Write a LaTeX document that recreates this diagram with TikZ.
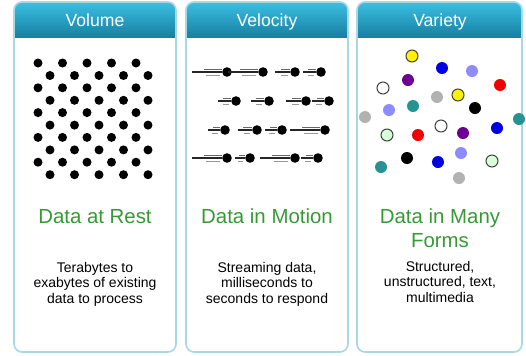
\documentclass[tikz,border=0pt]{standalone}
\usepackage{fontspec}
\setmainfont{Liberation Sans}
\usepackage{xcolor}
\definecolor{headtop}{HTML}{3CBFE2}
\definecolor{headbot}{HTML}{1680A2}
\definecolor{frame}{HTML}{A6D9E3}
\definecolor{titlegreen}{HTML}{359A35}
\tikzset{
  panel/.style={draw=frame,line width=0.8pt,rounded corners=4pt},
  head/.style={top color=headtop,bottom color=headbot},
  headtext/.style={text=white,font=\fontsize{8.8}{10}\selectfont,anchor=base},
  title/.style={text=titlegreen,font=\fontsize{10.2}{12}\selectfont,anchor=base,align=center},
  body/.style={font=\fontsize{7}{7.7}\selectfont,anchor=base,align=center},
  dot/.style={circle,fill,inner sep=0pt,minimum size=4.5pt},
  vdot/.style={circle,fill,inner sep=0pt,minimum size=4.8pt},
  streak/.style={line width=0.9pt,black!85},
  thin/.style={line width=0.5pt,black!60},
  cdot/.style={circle,inner sep=0pt,minimum size=6pt,line width=0.5pt},
  cyel/.style={fill=yellow,draw=black!75},
  cwht/.style={fill=white,draw=black!75},
  clgr/.style={fill=green!15,draw=black!75},
  cblu/.style={fill=blue!90!black},
  clbl/.style={fill=blue!45!white},
  cred/.style={fill=red!95!black},
  cpur/.style={fill=violet!85!blue},
  cgry/.style={fill=black!30},
  ctea/.style={fill=teal!85},
  cblk/.style={fill=black}
}
\begin{document}
\begin{tikzpicture}[x=0.5pt,y=-0.5pt]
  \useasboundingbox (0,0) rectangle (526,355);
  \foreach \l/\r in {14/176,186/348,357/522} {
    \begin{scope}
      \clip[rounded corners=4pt] (\l,2) rectangle (\r,352);
      \shade[head] (\l,2) rectangle (\r,37);
    \end{scope}
    \draw[panel] (\l,2) rectangle (\r,352);
  }
  \node (volhead) at (95,26) [headtext] {Volume};
  \node (velhead) at (267,26) [headtext] {Velocity};
  \node (varhead) at (440,26) [headtext] {Variety};

  \foreach \r in {0,...,4}
    \foreach \c in {0,...,4} {
      \node (a\r\c) at ({38+24.5*\c},{63+24.8*\r}) [dot] {};
      \node (b\r\c) at ({50+24.5*\c},{75.5+24.8*\r}) [dot] {};
    }

  \foreach \x/\y/\l [count=\i] in {227/72/30,263/72/30,295/72/15,321/72/13,
      236/101/13,269/101/13,306/101/15,329/101/12,
      225/130/12,257/130/14,282/130/12,325/130/30,
      227/158/30,250/158/10,295/158/30,318/158/12} {
    \node (v\i) at (\x,\y) [vdot] {};
    \draw[streak] (v\i.west) -- ++(-\l,0);
    \draw[thin] ([yshift=1.1pt]v\i.west) -- ++({-0.6*\l},0);
    \draw[thin,black!40] ([yshift=-1.6pt,xshift=-1pt]v\i.west) -- ++({-0.45*\l},0);
  }

  \foreach \x/\y/\s [count=\i] in {412/56/cyel,442/68/cblu,472/71/clbl,500/85/cred,
      408/80/cpur,383/88/cwht,437/97/cgry,458/95/cyel,413/106/ctea,389/110/clbl,
      475/108/cblk,365/117/cgry,519/119/ctea,441/126/cwht,387/135/clgr,418/135/cred,
      463/133/cpur,497/128/cblu,461/153/clbl,407/158/cblk,438/162/cblu,492/161/clgr,
      381/167/ctea,459/178/cgry}
    \node (c\i) at (\x,\y) [cdot,\s] {};

  \node (rest) at (95,223) [title] {Data at Rest};
  \node (motion) at (267,223) [title] {Data in Motion};
  \node (forms) at (440,247) [title] {Data in Many\\Forms};

  \node (restinfo) at (95,303) [body] {Terabytes to\\exabytes of existing\\data to process};
  \node (motioninfo) at (267,303) [body] {Streaming data,\\milliseconds to\\seconds to respond};
  \node (formsinfo) at (440,302) [body] {Structured,\\unstructured, text,\\multimedia};
\end{tikzpicture}
\end{document}
